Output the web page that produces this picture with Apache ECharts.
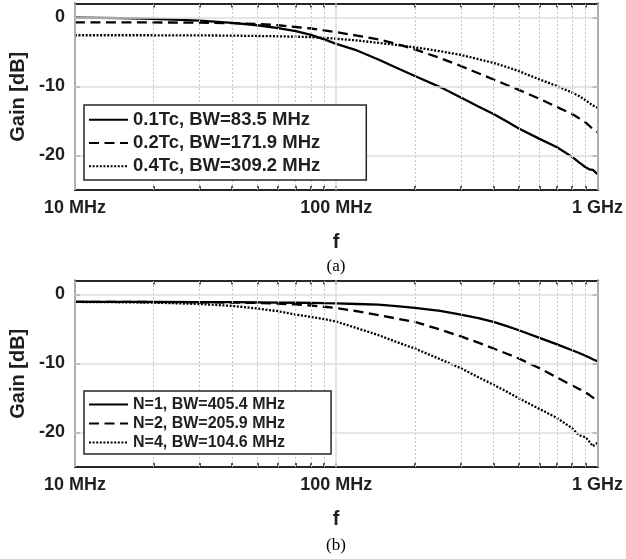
<!DOCTYPE html>
<html>
<head>
<meta charset="utf-8">
<script src="https://cdn.jsdelivr.net/npm/echarts@6/dist/echarts.min.js"></script>
<style>
  html, body { margin: 0; padding: 0; background: #fff; }
  #chart { width: 626px; height: 559px; }
</style>
</head>
<body>
<div id="chart"></div>
<script>
// Frequency points (MHz) shared by every curve
const freqMHz = [10, 15, 20, 30, 40, 50, 60, 70, 80, 90, 100, 120, 145, 170, 200, 250, 300, 350, 400, 450, 500, 600, 700, 800, 850, 900, 930, 960, 1000];

// (a) gain vs. rise-time setting
const gainTc01 = [-0.05, -0.12, -0.24, -0.48, -0.8, -1.15, -1.55, -2.0, -2.55, -3.2, -3.85, -4.8, -6.1, -7.3, -8.5, -10.1, -11.6, -12.9, -14.0, -15.1, -16.1, -17.6, -18.8, -20.2, -21.0, -21.7, -22.0, -22.1, -22.7];
const gainTc02 = [-0.72, -0.72, -0.74, -0.78, -0.85, -0.95, -1.15, -1.4, -1.62, -1.9, -2.15, -2.65, -3.2, -3.85, -4.65, -5.9, -7.05, -8.1, -9.0, -9.8, -10.5, -11.8, -13.0, -14.0, -14.6, -15.2, -15.7, -16.2, -16.6];
const gainTc04 = [-2.6, -2.6, -2.6, -2.62, -2.65, -2.7, -2.75, -2.8, -2.88, -2.97, -3.1, -3.35, -3.7, -4.0, -4.35, -4.9, -5.45, -6.05, -6.6, -7.2, -7.8, -9.0, -9.95, -10.9, -11.4, -12.0, -12.4, -12.75, -13.1];

// (b) gain vs. number of stages
const gainN1 = [-1.1, -1.1, -1.1, -1.12, -1.14, -1.16, -1.19, -1.22, -1.25, -1.28, -1.3, -1.4, -1.5, -1.7, -1.95, -2.4, -2.95, -3.45, -4.0, -4.6, -5.2, -6.3, -7.25, -8.1, -8.5, -8.9, -9.15, -9.4, -9.7];
const gainN2 = [-1.1, -1.1, -1.12, -1.15, -1.2, -1.25, -1.35, -1.47, -1.62, -1.8, -2.0, -2.45, -3.0, -3.5, -4.0, -5.1, -6.1, -7.0, -7.85, -8.6, -9.3, -10.7, -12.05, -13.2, -13.7, -14.2, -14.55, -14.95, -15.3];
const gainN4 = [-1.1, -1.15, -1.2, -1.4, -1.68, -2.06, -2.45, -2.93, -3.27, -3.6, -3.95, -4.9, -5.9, -6.9, -7.85, -9.4, -10.7, -12.0, -13.1, -14.1, -15.05, -16.6, -17.9, -19.4, -20.4, -20.7, -21.3, -22.0, -21.5];

// Legend entries
const namesA = ['0.1Tc, BW=83.5 MHz', '0.2Tc, BW=171.9 MHz', '0.4Tc, BW=309.2 MHz'];
const namesB = ['N=1, BW=405.4 MHz', 'N=2, BW=205.9 MHz', 'N=4, BW=104.6 MHz'];

// Axis ticks
const xMajorTicks = [10, 100, 1000];
const xMajorLabels = ['10 MHz', '100 MHz', '1 GHz'];
const xMinorTicks = [20, 30, 40, 50, 60, 70, 80, 90, 200, 300, 400, 500, 600, 700, 800, 900];
const yTicks = [-20, -10, 0];
const yRange = [-25, 2];
const captions = ['(a)', '(b)'];

const INK = '#1f1f1f';
const BOX = '#262626';
const FONT = '"Liberation Sans", Arial, Helvetica, sans-serif';
const lineTypes = ['solid', [10, 5.5], [2, 1.6]];

const grids = [
  { left: 73, right: 24, top: 3.5, height: 186.5 },
  { left: 73, right: 24, top: 280.5, height: 186.5 }
];

const xAxes = [];
const yAxes = [];
grids.forEach((g, gi) => {
  // bottom axis with labels
  xAxes.push({
    gridIndex: gi, type: 'log', logBase: 10, min: 10, max: 1000, position: 'bottom',
    name: 'f', nameLocation: 'middle', nameGap: 42,
    nameTextStyle: { fontFamily: FONT, fontWeight: 'bold', fontSize: 20, color: INK },
    axisLine: { show: true, onZero: false, lineStyle: { color: BOX, width: 2 } },
    axisTick: { show: true, inside: true, length: 4, customValues: xMajorTicks.concat(xMinorTicks), lineStyle: { color: BOX, width: 1.5 } },
    axisLabel: {
      show: true, margin: 9, customValues: xMajorTicks,
      fontFamily: FONT, fontWeight: 'bold', fontSize: 18, color: INK,
      formatter: v => { const i = xMajorTicks.indexOf(Math.round(v)); return i >= 0 ? xMajorLabels[i] : ''; }
    },
    splitLine: { show: false }
  });
  // top border with mirrored ticks
  xAxes.push({
    gridIndex: gi, type: 'log', logBase: 10, min: 10, max: 1000, position: 'top',
    axisLine: { show: true, onZero: false, lineStyle: { color: BOX, width: 2 } },
    axisTick: { show: true, inside: true, length: 4, customValues: xMajorTicks.concat(xMinorTicks), lineStyle: { color: BOX, width: 1.5 } },
    axisLabel: { show: false },
    splitLine: { show: false }
  });
  yAxes.push({
    gridIndex: gi, type: 'value', min: yRange[0], max: yRange[1], position: 'left',
    name: 'Gain [dB]', nameLocation: 'middle', nameGap: 34,
    nameTextStyle: { fontFamily: FONT, fontWeight: 'bold', fontSize: 20, color: INK },
    axisLine: { show: true, onZero: false, lineStyle: { color: BOX, width: 2 } },
    axisTick: { show: true, inside: true, length: 5, customValues: yTicks, lineStyle: { color: BOX, width: 1.5 } },
    axisLabel: { show: true, margin: 10, customValues: yTicks, fontFamily: FONT, fontWeight: 'bold', fontSize: 18, color: INK },
    splitLine: { show: false }
  });
  yAxes.push({
    gridIndex: gi, type: 'value', min: yRange[0], max: yRange[1], position: 'right',
    axisLine: { show: true, onZero: false, lineStyle: { color: BOX, width: 2 } },
    axisTick: { show: true, inside: true, length: 5, customValues: yTicks, lineStyle: { color: BOX, width: 1.5 } },
    axisLabel: { show: false },
    splitLine: { show: false }
  });
});

// Background grid lines drawn as marker lines on an empty helper series per panel
function gridSeries(gi) {
  const major = { type: 'solid', color: '#dcdcdc', width: 1.5 };
  const minor = { type: [2, 2], color: '#c4c4c4', width: 1 };
  const data = [];
  xMajorTicks.forEach(v => data.push({ xAxis: v, lineStyle: major }));
  xMinorTicks.forEach(v => data.push({ xAxis: v, lineStyle: minor }));
  yTicks.forEach(v => data.push({ yAxis: v, lineStyle: major }));
  return {
    type: 'line', name: 'grid' + gi, xAxisIndex: gi * 2, yAxisIndex: gi * 2, z: 1,
    data: [], silent: true,
    markLine: { silent: true, symbol: 'none', animation: false, label: { show: false }, data: data }
  };
}

function curve(name, values, gi, k) {
  return {
    type: 'line', name: name, xAxisIndex: gi * 2, yAxisIndex: gi * 2, z: 3,
    symbol: 'none', smooth: false, animation: false,
    lineStyle: { color: '#000', width: 2.3, type: lineTypes[k] },
    itemStyle: { color: '#000' },
    data: freqMHz.map((f, i) => [f, values[i]])
  };
}

const series = [
  gridSeries(0), gridSeries(1),
  curve(namesA[0], gainTc01, 0, 0),
  curve(namesA[1], gainTc02, 0, 1),
  curve(namesA[2], gainTc04, 0, 2),
  curve(namesB[0], gainN1, 1, 0),
  curve(namesB[1], gainN2, 1, 1),
  curve(namesB[2], gainN4, 1, 2)
];

function legend(names, top, fontSize, rowH, pad) {
  return {
    data: names, orient: 'vertical', left: 84, top: top, z: 20,
    itemWidth: 39, itemHeight: 14, itemGap: 0,
    padding: pad, borderColor: BOX, borderWidth: 1.5, backgroundColor: '#fff',
    selectedMode: false,
    itemStyle: { opacity: 0 },
    textStyle: { fontFamily: FONT, fontWeight: 'bold', fontSize: fontSize, lineHeight: rowH, color: INK }
  };
}

const chart = echarts.init(document.getElementById('chart'), null, { renderer: 'canvas' });
chart.setOption({
  animation: false,
  backgroundColor: '#fff',
  grid: grids,
  xAxis: xAxes,
  yAxis: yAxes,
  legend: [
    legend(namesA, 105, 18.5, 23.3, [3, 46, 2, 4]),
    legend(namesB, 391, 16, 19, [4, 46, 2, 4])
  ],
  graphic: [
    { type: 'text', x: 336, y: 267, style: { text: captions[0], font: '17px "Liberation Serif", "Times New Roman", serif', fill: '#000', align: 'center', verticalAlign: 'middle' } },
    { type: 'text', x: 336, y: 546, style: { text: captions[1], font: '17px "Liberation Serif", "Times New Roman", serif', fill: '#000', align: 'center', verticalAlign: 'middle' } }
  ],
  series: series
});
</script>
</body>
</html>
